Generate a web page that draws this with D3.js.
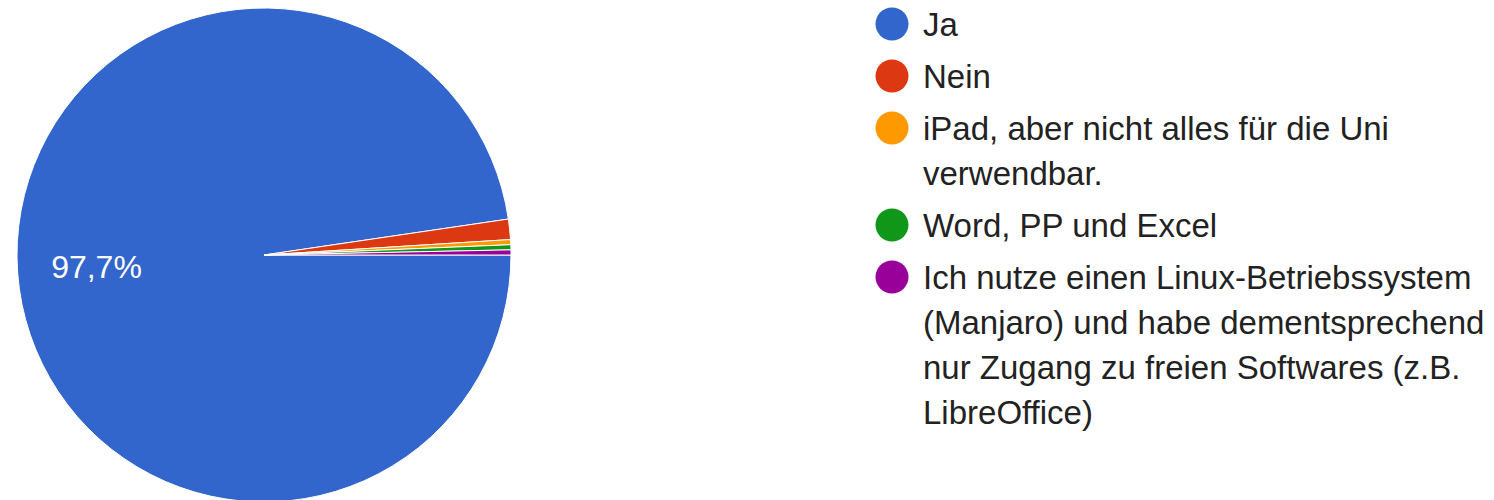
<!DOCTYPE html>
<html>
<head>
<meta charset="utf-8">
<script src="https://cdn.jsdelivr.net/npm/d3@7"></script>
<style>
  body { margin: 0; background: #fff; }
  svg { display: block; }
</style>
</head>
<body>
<script>
// antworten
var categories = ["Ja", "Nein", "iPad, aber nicht alles für die Uni verwendbar.", "Word, PP und Excel",
    "Ich nutze einen Linux-Betriebssystem (Manjaro) und habe dementsprechend nur Zugang zu freien Softwares (z.B. LibreOffice)"];
var counts = [294, 4, 1, 1, 1];
var colors = ["#3366cc", "#dc3912", "#ff9900", "#109618", "#990099"];

var width = 1494, height = 500;
var cx = 264, cy = 255, radius = 247;

var svg = d3.select("body").append("svg")
        .attr("width", width)
        .attr("height", height);

var data = categories.map(function (c, i) {
    return {name: c, value: counts[i], color: colors[i]};
});
var total = d3.sum(counts);

// pie starts at 3 o'clock, clockwise, no sorting
var pie = d3.pie()
        .sort(null)
        .value(function (d) { return d.value; })
        .startAngle(Math.PI / 2)
        .endAngle(Math.PI / 2 + 2 * Math.PI);

var arc = d3.arc().innerRadius(0).outerRadius(radius);
var labelArc = d3.arc().innerRadius(radius * 0.68).outerRadius(radius * 0.68);

var g = svg.append("g")
        .attr("transform", "translate(" + cx + "," + cy + ")");

g.selectAll("path")
        .data(pie(data))
        .enter().append("path")
        .attr("d", arc)
        .attr("fill", function (d) { return d.data.color; })
        .attr("stroke", "#fff")
        .attr("stroke-width", 1);

// only big slices get a percentage label
var fmt = function (v) { return (v * 100).toFixed(1).replace(".", ",") + "%"; };
g.selectAll("text.pct")
        .data(pie(data).filter(function (d) { return d.data.value / total > 0.05; }))
        .enter().append("text")
        .attr("class", "pct")
        .attr("transform", function (d) { return "translate(" + labelArc.centroid(d) + ")"; })
        .attr("text-anchor", "middle")
        .attr("dy", "0.35em")
        .style("font-family", "Arial, 'Liberation Sans', sans-serif")
        .style("font-size", "32px")
        .style("fill", "#fff")
        .text(function (d) { return fmt(d.data.value / total); });

// legend
var legendX = 892, textX = 923, lineH = 45, gap = 7, maxW = 575;
var legend = svg.append("g");
var y = 24;
data.forEach(function (d) {
    var item = legend.append("g");
    item.append("circle")
            .attr("cx", legendX)
            .attr("cy", y)
            .attr("r", 16.5)
            .attr("fill", d.color);
    var text = item.append("text")
            .style("font-family", "Arial, 'Liberation Sans', sans-serif")
            .style("font-size", "33px")
            .style("fill", "#222");
    // simple word wrap
    var words = d.name.split(" "), line = [], n = 0;
    var tspan = text.append("tspan").attr("x", textX).attr("y", y).attr("dy", "0.35em");
    words.forEach(function (w) {
        line.push(w);
        tspan.text(line.join(" "));
        if (tspan.node().getComputedTextLength() > maxW && line.length > 1) {
            line.pop();
            tspan.text(line.join(" "));
            line = [w];
            n++;
            tspan = text.append("tspan")
                    .attr("x", textX)
                    .attr("y", y + n * lineH)
                    .attr("dy", "0.35em")
                    .text(w);
        }
    });
    y += (n + 1) * lineH + gap;
});
</script>
</body>
</html>
